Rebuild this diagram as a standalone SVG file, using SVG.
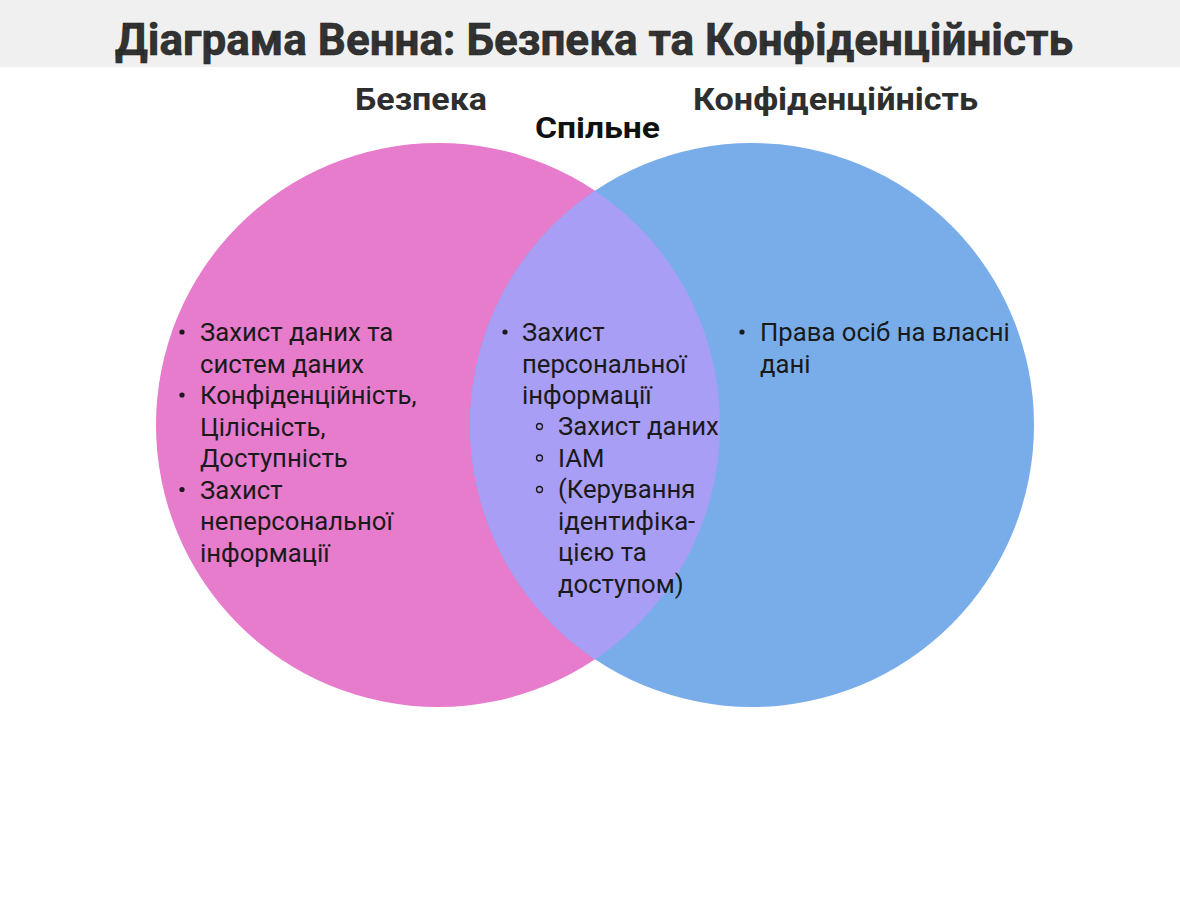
<svg xmlns="http://www.w3.org/2000/svg" width="1180" height="912" viewBox="0 0 1180 912">
<style>
.title{font-family:Roboto,"Liberation Sans",sans-serif;font-weight:700;font-size:44px;fill:#333;stroke:#222;stroke-width:0.6}
.label{font-family:Roboto,"Liberation Sans",sans-serif;font-weight:700;font-size:32px;fill:#2e2e2e}
.common{font-family:Roboto,"Liberation Sans",sans-serif;font-weight:700;font-size:30px;fill:#111}
.item{font-family:Roboto,"Liberation Sans",sans-serif;font-size:25.7px;fill:#1a1a1a}
.dot{fill:#1a1a1a}
.ring{fill:none;stroke:#1a1a1a;stroke-width:1.3}
</style>
<defs>
<clipPath id="clipLeft"><circle cx="438" cy="425" r="282"/></clipPath>
</defs>
<rect x="0" y="0" width="1180" height="912" fill="#ffffff"/>
<rect x="0" y="0" width="1180" height="67" fill="#f0f0f0"/>
<text class="title" x="594" y="55" text-anchor="middle" textLength="958" lengthAdjust="spacingAndGlyphs">Діаграма Венна: Безпека та Конфіденційність</text>

<g id="set-security">
<circle cx="438" cy="425" r="282" fill="#e77bcc"/>
</g>
<g id="set-privacy">
<circle cx="752" cy="425" r="282" fill="#79adea"/>
</g>
<g id="set-common">
<circle cx="752" cy="425" r="282" fill="#a99ef5" clip-path="url(#clipLeft)"/>
</g>

<g id="labels">
<text class="label" x="355" y="110" textLength="132" lengthAdjust="spacingAndGlyphs">Безпека</text>
<text class="label" x="693" y="110" textLength="285" lengthAdjust="spacingAndGlyphs">Конфіденційність</text>
<text class="common" x="535" y="138" textLength="125" lengthAdjust="spacingAndGlyphs">Спільне</text>
</g>

<g id="list-security">
<circle class="dot" cx="182" cy="332" r="2.6"/>
<text class="item" x="200" y="341">Захист даних та</text>
<text class="item" x="200" y="372.5">систем даних</text>
<circle class="dot" cx="182" cy="395" r="2.6"/>
<text class="item" x="200" y="404">Конфіденційність,</text>
<text class="item" x="200" y="435.5">Цілісність,</text>
<text class="item" x="200" y="467">Доступність</text>
<circle class="dot" cx="182" cy="489.5" r="2.6"/>
<text class="item" x="200" y="498.5">Захист</text>
<text class="item" x="200" y="530">неперсональної</text>
<text class="item" x="200" y="561.5">інформації</text>
</g>

<g id="list-common">
<circle class="dot" cx="505" cy="332" r="2.6"/>
<text class="item" x="522" y="341">Захист</text>
<text class="item" x="522" y="372.5">персональної</text>
<text class="item" x="522" y="404">інформації</text>
<circle class="ring" cx="539.5" cy="426.5" r="3"/>
<text class="item" x="558" y="435">Захист даних</text>
<circle class="ring" cx="539.5" cy="458" r="3"/>
<text class="item" x="558" y="466.5">IAM</text>
<circle class="ring" cx="539.5" cy="489.5" r="3"/>
<text class="item" x="558" y="498">(Керування</text>
<text class="item" x="558" y="529.5">ідентифіка-</text>
<text class="item" x="558" y="561">цією та</text>
<text class="item" x="558" y="592.5">доступом)</text>
</g>

<g id="list-privacy">
<circle class="dot" cx="742" cy="332" r="2.6"/>
<text class="item" x="760" y="341">Права осіб на власні</text>
<text class="item" x="760" y="372.5">дані</text>
</g>
</svg>
